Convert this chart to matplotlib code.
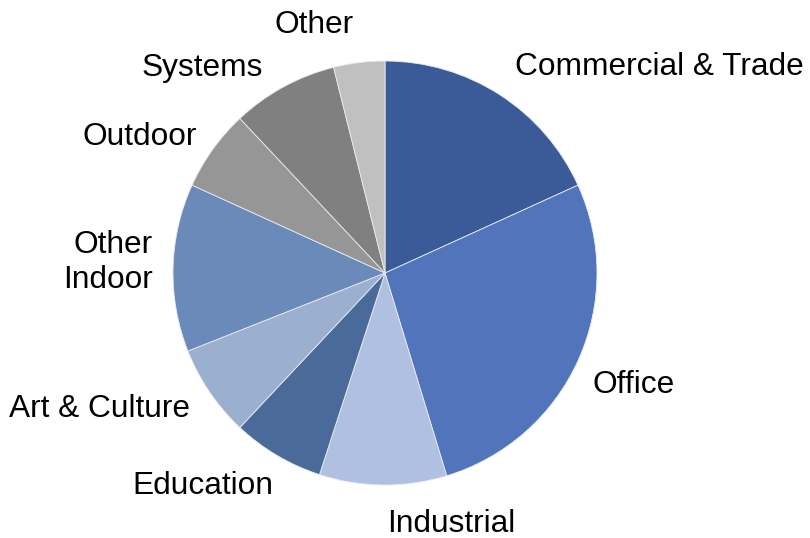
import matplotlib.pyplot as plt

plt.rcParams['font.family'] = ['Liberation Sans', 'DejaVu Sans']

# sector shares (%), clockwise from 12 o'clock
labels = ['Commercial & Trade', 'Office', 'Industrial', 'Education', 'Art & Culture',
          'Other\nIndoor', 'Outdoor', 'Systems', 'Other']
shares = [18.2, 27.1, 9.7, 7.0, 7.0, 12.8, 6.2, 8.1, 3.9]
colors = ['#3A5A98', '#5274BA', '#AFC0E0', '#4A6A9A', '#9BB0CE',
          '#6A8BBA', '#969696', '#808080', '#C0C0C0']

W, H = 810, 538
cx, cy, R = 385, 273, 212

# label anchor (pixel x, pixel baseline y of last line, horizontal alignment)
label_pos = [(515, 75, 'left'), (593, 393, 'left'), (387, 532, 'left'),
             (132, 494, 'left'), (9, 417, 'left'), (153, 288, 'right'),
             (83, 145, 'left'), (142, 76, 'left'), (274, 33, 'left')]

fig = plt.figure(figsize=(W / 100, H / 100), dpi=100)
ax = fig.add_axes([(cx - R) / W, (H - cy - R) / H, 2 * R / W, 2 * R / H])
ax.pie(shares, colors=colors, startangle=90, counterclock=False, radius=1,
       wedgeprops=dict(edgecolor='#E8ECF4', linewidth=0.6))
ax.set_xlim(-1, 1)
ax.set_ylim(-1, 1)
ax.axis('off')

for lab, (px, py, ha) in zip(labels, label_pos):
    x = (px - cx) / R
    y = (cy - py) / R
    ax.text(x, y, lab, ha=ha, va='baseline', multialignment=ha,
            fontsize=22.8, color='black', clip_on=False)

plt.savefig('out.png', dpi=100)
